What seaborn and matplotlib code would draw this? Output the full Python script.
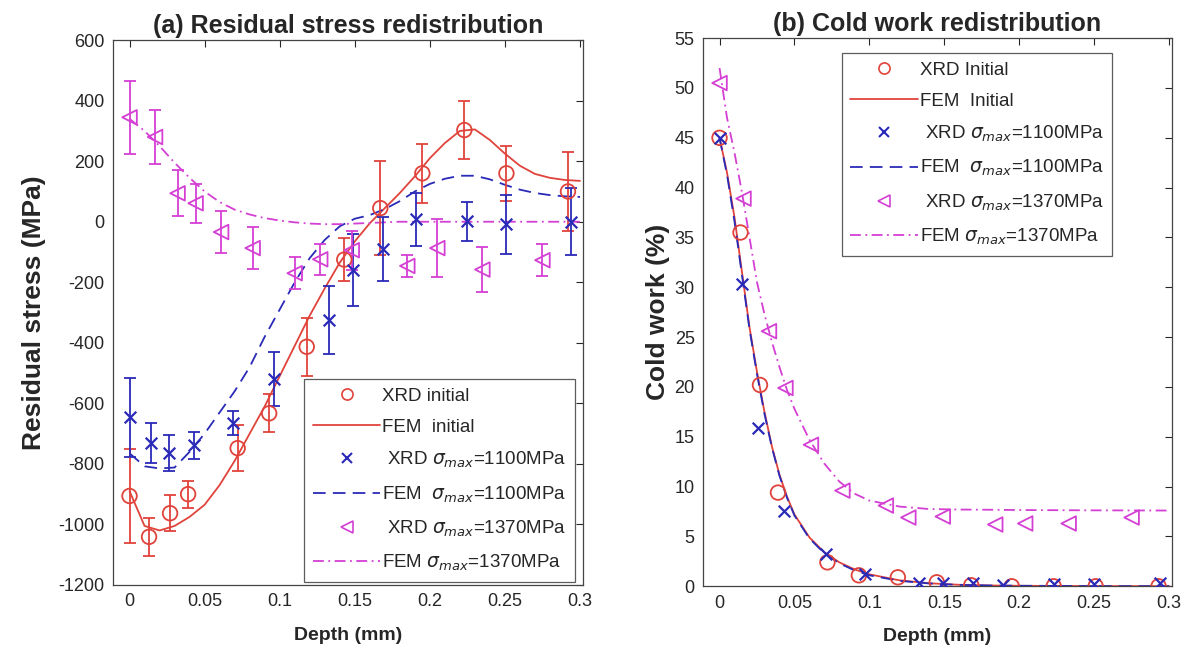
import matplotlib
matplotlib.use("Agg")
import matplotlib.pyplot as plt
import seaborn as sns
from matplotlib.lines import Line2D

# ---- (a) residual stress: XRD points (depth mm, MPa, error) ----
rs_depth_init = [0.0, 0.013, 0.027, 0.039, 0.072, 0.093, 0.118, 0.143, 0.167, 0.195, 0.223, 0.251, 0.292]
rs_init = [-906, -1041, -963, -900, -748, -633, -413, -125, 45, 160, 303, 160, 100]
rs_init_err = [155, 62, 60, 45, 77, 63, 95, 70, 155, 98, 97, 90, 130]

rs_depth_1100 = [0.0, 0.014, 0.026, 0.043, 0.069, 0.096, 0.133, 0.149, 0.169, 0.191, 0.225, 0.251, 0.294]
rs_1100 = [-646, -731, -765, -738, -664, -520, -325, -160, -90, 8, 2, -8, 0]
rs_1100_err = [130, 67, 60, 45, 40, 90, 112, 120, 105, 88, 64, 98, 110]

rs_depth_1370 = [0.0, 0.017, 0.032, 0.044, 0.061, 0.082, 0.110, 0.127, 0.148, 0.185, 0.205, 0.235, 0.275]
rs_1370 = [345, 280, 94, 61, -34, -87, -170, -124, -94, -146, -87, -158, -127]
rs_1370_err = [120, 90, 76, 65, 68, 70, 52, 52, 65, 35, 95, 75, 53]

# ---- (a) FEM curves ----
fem_depth = [0.0, 0.01, 0.02, 0.03, 0.04, 0.05, 0.06, 0.07, 0.08, 0.09, 0.10,
             0.11, 0.12, 0.13, 0.14, 0.15, 0.16, 0.17, 0.18, 0.19, 0.20,
             0.21, 0.22, 0.23, 0.24, 0.25, 0.26, 0.27, 0.28, 0.29, 0.30]
fem_rs_init = [-890, -1005, -1020, -1005, -975, -935, -870, -790, -700, -610, -510,
               -410, -310, -220, -135, -65, -5, 45, 95, 150, 210,
               260, 300, 305, 270, 225, 185, 158, 145, 138, 135]
fem_rs_1100 = [-765, -808, -815, -812, -760, -700, -630, -560, -480, -380, -290,
               -200, -120, -60, -15, 10, 22, 42, 68, 100, 125,
               142, 152, 152, 140, 122, 106, 95, 88, 84, 82]
fem_rs_1370 = [340, 300, 250, 195, 145, 100, 65, 40, 24, 12, 4,
               -2, -6, -8, -8, -6, -4, -2, 0, 0, 0,
               0, 0, 0, 0, 0, 0, 0, 0, 0, 0]

# ---- (b) cold work: XRD points (depth mm, %) ----
cw_depth_init = [0.0, 0.014, 0.027, 0.039, 0.072, 0.093, 0.119, 0.145, 0.168, 0.195, 0.223, 0.251, 0.293]
cw_init = [45, 35.5, 20.2, 9.4, 2.4, 1.1, 0.9, 0.4, 0.1, 0.0, 0.0, 0.0, 0.0]

cw_depth_1100 = [0.0, 0.015, 0.026, 0.043, 0.071, 0.097, 0.133, 0.149, 0.169, 0.189, 0.223, 0.250, 0.294]
cw_1100 = [45, 30.3, 15.9, 7.6, 3.2, 1.2, 0.3, 0.3, 0.3, 0.1, 0.2, 0.2, 0.3]

cw_depth_1370 = [0.0, 0.016, 0.033, 0.044, 0.061, 0.082, 0.111, 0.126, 0.149, 0.184, 0.204, 0.233, 0.275]
cw_1370 = [50.5, 38.9, 25.6, 19.9, 14.2, 9.6, 8.1, 6.9, 7.0, 6.2, 6.3, 6.3, 6.9]

# ---- (b) FEM curves ----
cw_fem_depth = [0.0, 0.005, 0.01, 0.015, 0.02, 0.025, 0.03, 0.035, 0.04, 0.045, 0.05,
                0.06, 0.07, 0.08, 0.09, 0.10, 0.12, 0.14, 0.16, 0.18, 0.20, 0.25, 0.30]
cw_fem_init = [45, 41.5, 37, 31.5, 26, 21.5, 17.5, 14, 11.2, 9, 7.2,
               4.9, 3.4, 2.4, 1.7, 1.2, 0.6, 0.3, 0.15, 0.08, 0.05, 0.02, 0.01]
cw_fem_1100 = [45, 41.3, 36.6, 31.2, 25.8, 21.3, 17.3, 13.9, 11.1, 8.9, 7.1,
               4.8, 3.3, 2.3, 1.6, 1.1, 0.55, 0.28, 0.14, 0.08, 0.05, 0.02, 0.01]
cw_fem_1370 = [52, 47, 43.5, 39.5, 35, 30.5, 27.3, 24.5, 22, 19.7, 17.8,
               14.7, 12.3, 10.5, 9.3, 8.6, 8.0, 7.75, 7.7, 7.68, 7.65, 7.62, 7.6]

depth_ticks = [0, 0.05, 0.1, 0.15, 0.2, 0.25, 0.3]
depth_labels = ["0", "0.05", "0.1", "0.15", "0.2", "0.25", "0.3"]
rs_ticks = [-1200, -1000, -800, -600, -400, -200, 0, 200, 400, 600]
cw_ticks = [0, 5, 10, 15, 20, 25, 30, 35, 40, 45, 50, 55]

labels_a = ["XRD initial", "FEM  initial",
            r" XRD $\sigma_{max}$=1100MPa", r"FEM  $\sigma_{max}$=1100MPa",
            r" XRD $\sigma_{max}$=1370MPa", r"FEM $\sigma_{max}$=1370MPa"]
labels_b = ["XRD Initial", "FEM  Initial",
            r" XRD $\sigma_{max}$=1100MPa", r"FEM  $\sigma_{max}$=1100MPa",
            r" XRD $\sigma_{max}$=1370MPa", r"FEM $\sigma_{max}$=1370MPa"]

RED = "#e0433b"
BLUE = "#2a2ab8"
MAG = "#d43fd4"
DASH = (0, (7, 4))
DASHDOT = (0, (6, 2.5, 1, 2.5))

sns.set_theme(style="white")
plt.rcParams["font.family"] = ["Liberation Sans", "DejaVu Sans"]
plt.rcParams["mathtext.fontset"] = "dejavusans"
plt.rcParams["axes.unicode_minus"] = False


def draw_xrd(ax, x, y, err, color, marker, size):
    if err is not None:
        ax.errorbar(x, y, yerr=err, fmt="none", ecolor=color, elinewidth=1.3,
                    capsize=4, capthick=1.3, zorder=2)
    if marker == "x":
        sns.scatterplot(x=x, y=y, ax=ax, marker="x", s=size, color=color,
                        linewidth=1.6, zorder=3)
    else:
        sns.scatterplot(x=x, y=y, ax=ax, marker=marker, s=size, color=color,
                        facecolor="none", edgecolor=color, linewidth=1.3, zorder=3)


def draw_fem(ax, x, y, color, ls):
    sns.lineplot(x=x, y=y, ax=ax, color=color, linewidth=1.3, linestyle=ls,
                 errorbar=None, zorder=2)


def style_axes(ax, yticks, ylim, ylabel, title, ypad):
    ax.set_xlim(-0.011, 0.302)
    ax.set_ylim(*ylim)
    ax.set_xticks(depth_ticks)
    ax.set_xticklabels(depth_labels)
    ax.set_yticks(yticks)
    ax.tick_params(direction="in", top=True, right=True, length=5, width=0.8,
                   labelsize=13, colors="#262626", pad=6)
    for s in ax.spines.values():
        s.set_color("#444444")
        s.set_linewidth(0.9)
    ax.set_xlabel("Depth (mm)", fontsize=14, fontweight="bold", labelpad=12)
    ax.set_ylabel(ylabel, fontsize=19, fontweight="bold", labelpad=ypad)
    ax.set_title(title, fontsize=18, fontweight="bold", pad=5)


def legend_handles():
    return [
        Line2D([], [], color=RED, marker="o", mfc="none", ls="none", ms=8, mew=1.2),
        Line2D([], [], color=RED, lw=1.3),
        Line2D([], [], color=BLUE, marker="x", ls="none", ms=7, mew=1.5),
        Line2D([], [], color=BLUE, lw=1.3, ls=DASH),
        Line2D([], [], color=MAG, marker="<", mfc="none", ls="none", ms=8, mew=1.2),
        Line2D([], [], color=MAG, lw=1.3, ls=DASHDOT),
    ]


def add_legend(ax, labels, loc, anchor):
    leg = ax.legend(legend_handles(), labels, loc=loc, bbox_to_anchor=anchor,
                    fontsize=13.5, frameon=True, fancybox=False,
                    edgecolor="#333333", handlelength=3.6, handletextpad=0.1,
                    labelspacing=0.75, borderpad=0.45, borderaxespad=0)
    leg.get_frame().set_linewidth(0.9)
    return leg


fig = plt.figure(figsize=(11.91, 6.58), dpi=100)
ax1 = fig.add_axes([0.0949, 0.111, 0.3946, 0.828])
ax2 = fig.add_axes([0.5903, 0.109, 0.3938, 0.833])

# (a)
draw_fem(ax1, fem_depth, fem_rs_init, RED, "-")
draw_fem(ax1, fem_depth, fem_rs_1100, BLUE, DASH)
draw_fem(ax1, fem_depth, fem_rs_1370, MAG, DASHDOT)
draw_xrd(ax1, rs_depth_init, rs_init, rs_init_err, RED, "o", 110)
draw_xrd(ax1, rs_depth_1100, rs_1100, rs_1100_err, BLUE, "x", 70)
draw_xrd(ax1, rs_depth_1370, rs_1370, rs_1370_err, MAG, "<", 110)
style_axes(ax1, rs_ticks, (-1200, 600), "Residual stress (MPa)",
           "(a) Residual stress redistribution", 9)
add_legend(ax1, labels_a, "lower right", (0.983, 0.006))

# (b)
draw_fem(ax2, cw_fem_depth, cw_fem_init, RED, "-")
draw_fem(ax2, cw_fem_depth, cw_fem_1100, BLUE, DASH)
draw_fem(ax2, cw_fem_depth, cw_fem_1370, MAG, DASHDOT)
draw_xrd(ax2, cw_depth_init, cw_init, None, RED, "o", 110)
draw_xrd(ax2, cw_depth_1100, cw_1100, None, BLUE, "x", 70)
draw_xrd(ax2, cw_depth_1370, cw_1370, None, MAG, "<", 110)
style_axes(ax2, cw_ticks, (0, 55), "Cold work (%)",
           "(b) Cold work redistribution", 3)
add_legend(ax2, labels_b, "upper left", (0.296, 0.973))

fig.savefig("out.png", dpi=100)
